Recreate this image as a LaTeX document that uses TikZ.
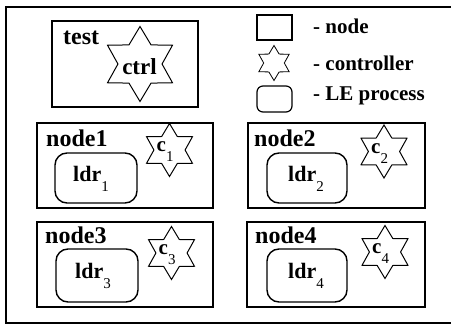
\documentclass[tikz,border=0pt]{standalone}
\usepackage{fontspec}
\setmainfont{Liberation Serif}
\usetikzlibrary{shapes.geometric}
\newcommand\sbs[1]{\raisebox{-10pt}{\fontsize{15}{15}\selectfont\mdseries #1}}
\tikzset{
  frame/.style={line width=2.4pt},
  box/.style={draw, line width=1.4pt},
  ldrbox/.style={draw, line width=1.4pt, rounded corners=12pt},
  hstar/.style={draw, shape=star, star points=6, star point ratio=1.7, inner sep=0pt, line width=1pt},
  lab/.style={anchor=base west, inner sep=0pt, font=\fontsize{24}{24}\selectfont\bfseries},
  ldrlab/.style={anchor=base west, inner sep=0pt, font=\fontsize{22}{22}\selectfont\bfseries},
  clab/.style={anchor=base west, inner sep=0pt, font=\fontsize{21}{21}\selectfont\bfseries},
  leglab/.style={anchor=base west, inner sep=0pt, font=\fontsize{21}{21}\selectfont\bfseries},
}
\begin{document}
\begin{tikzpicture}[x=1pt,y=-1pt]
\useasboundingbox (0,0) rectangle (451,326);
\fill[white] (0,0) rectangle (451,326);
% outer frame
\draw[frame] (452,7) -- (6,7) -- (6,323) -- (452,323);
% test box
\draw[box] (52,21) rectangle (198,107);
\node[lab] (test) at (63,45) {test};
\node[hstar, minimum size=75pt] (ctrlstar) at (140,64) {};
\node[anchor=base, inner sep=0pt, font=\fontsize{23}{23}\selectfont\bfseries] (ctrl) at (139.5,75) {ctrl};
% legend
\draw[box, line width=1.2pt] (257,15) rectangle (292,40);
\node[hstar, minimum size=35pt, line width=0.8pt] (legstar) at (274,63) {};
\draw[ldrbox, line width=1.2pt, rounded corners=6pt] (257,86) rectangle (292,112);
\node[leglab] (lnode) at (313,34) {- node};
\node[leglab] (lctrl) at (313,71) {- controller};
\node[leglab] (lle) at (313,101) {- LE process};
% node1
\draw[box] (37,123) rectangle (213,208);
\node[lab] (n1) at (46,147) {node1};
\draw[ldrbox] (55,153) rectangle (137,203);
\node[ldrlab] (l1) at (73,182) {ldr\sbs{1}};
\node[hstar, minimum size=53pt] (c1) at (169.5,150) {};
\node[clab] (c1t) at (156.5,152) {c\sbs{1}};
% node2
\draw[box] (248,123) rectangle (425,208);
\node[lab] (n2) at (254,147) {node2};
\draw[ldrbox] (267,153) rectangle (347,203);
\node[ldrlab] (l2) at (288,182) {ldr\sbs{2}};
\node[hstar, minimum size=53pt] (c2) at (384,151.5) {};
\node[clab] (c2t) at (371,153.5) {c\sbs{2}};
% node3
\draw[box] (37,222) rectangle (213,307);
\node[lab] (n3) at (45,244) {node3};
\draw[ldrbox] (56,249) rectangle (138,302);
\node[ldrlab] (l3) at (75,279) {ldr\sbs{3}};
\node[hstar, minimum size=53pt] (c3) at (171.5,253) {};
\node[clab] (c3t) at (158.5,255) {c\sbs{3}};
% node4
\draw[box] (247,222) rectangle (425,307);
\node[lab] (n4) at (255,244) {node4};
\draw[ldrbox] (267,249) rectangle (347,302);
\node[ldrlab] (l4) at (288,279) {ldr\sbs{4}};
\node[hstar, minimum size=53pt] (c4) at (385,252) {};
\node[clab] (c4t) at (372,254) {c\sbs{4}};
\end{tikzpicture}
\end{document}
